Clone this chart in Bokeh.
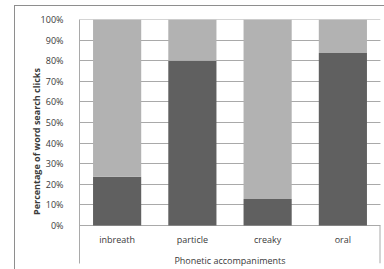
from bokeh.plotting import figure
from bokeh.models import (FactorRange, Range1d, FixedTicker, NumeralTickFormatter,
                          ColumnDataSource, InlineStyleSheet)
from bokeh.embed import file_html
from bokeh.resources import INLINE

categories = ["inbreath", "particle", "creaky", "oral"]
lower_pct = [23.7, 80.0, 12.9, 83.7]
upper_pct = [76.3, 20.0, 87.1, 16.3]
y_ticks = [0, 10, 20, 30, 40, 50, 60, 70, 80, 90, 100]

DARK = "#606060"
LIGHT = "#b2b2b2"
GRID = "#a9a9a9"
BORDER = "#8e8e8e"
TEXT = "#3a3a3a"
FONT = "Open Sans"

# axis area below 0 is drawn inside the frame (as in the Excel original)
below_zero = -38 / 206 * 100

src = ColumnDataSource(dict(cat=categories, lower=lower_pct, upper=upper_pct))

p = figure(
    x_range=FactorRange(*categories, range_padding=0),
    y_range=Range1d(below_zero, 100),
    width=384, height=269,
    min_border_left=79, min_border_right=4, min_border_top=19, min_border_bottom=6,
    output_backend="svg", toolbar_location=None,
)
p.border_fill_color = "white"
p.outline_line_color = None

# outer chart-area border (only its left and top edges fall inside the window)
p.stylesheets = [InlineStyleSheet(css=(
    ":host::after { content: ''; position: absolute; left: 14px; top: 5px; "
    "width: 370px; height: 264px; box-sizing: border-box; "
    "border-left: 1px solid " + BORDER + "; border-top: 1px solid " + BORDER + "; "
    "pointer-events: none; }"
))]

p.ygrid.ticker = FixedTicker(ticks=y_ticks)
p.ygrid.grid_line_color = GRID
p.xgrid.grid_line_color = None

# horizontal gridlines at the y tick values, drawn beneath the bars
p.hspan(y=y_ticks, line_color=GRID, line_width=1)

p.vbar_stack(["lower", "upper"], x="cat", width=0.64, source=src,
             color=[DARK, LIGHT], line_color=None)

# vertical separator at right end of category axis (below 0 only)
p.segment(x0=[4], x1=[4], y0=[0], y1=[below_zero], line_color=GRID, line_width=2)

# y axis
yax = p.yaxis[0]
yax.ticker = FixedTicker(ticks=y_ticks)
yax.formatter = NumeralTickFormatter(format="0")
yax.major_label_overrides = {t: f"{t}%" for t in y_ticks}
yax.major_tick_line_color = None
yax.minor_tick_line_color = None
yax.axis_line_color = GRID
yax.major_label_standoff = 10
yax.major_label_text_font = FONT
yax.major_label_text_font_size = "9px"
yax.major_label_text_color = TEXT
yax.axis_label = "Percentage of word search clicks"
yax.axis_label_text_font = FONT
yax.axis_label_text_font_size = "9px"
yax.axis_label_text_font_style = "bold"
yax.axis_label_text_color = TEXT
yax.axis_label_standoff = -5

# x axis (labels pulled up into the area below 0)
xax = p.xaxis[0]
xax.axis_line_color = None
xax.major_tick_line_color = None
xax.minor_tick_line_color = None
xax.major_label_standoff = -37
xax.major_label_text_font = FONT
xax.major_label_text_font_size = "9px"
xax.major_label_text_color = TEXT
xax.axis_label = "Phonetic accompaniments"
xax.axis_label_text_font = FONT
xax.axis_label_text_font_size = "9px"
xax.axis_label_text_font_style = "normal"
xax.axis_label_text_color = TEXT
xax.axis_label_standoff = 5

open("out.html", "w").write(file_html(p, INLINE))
